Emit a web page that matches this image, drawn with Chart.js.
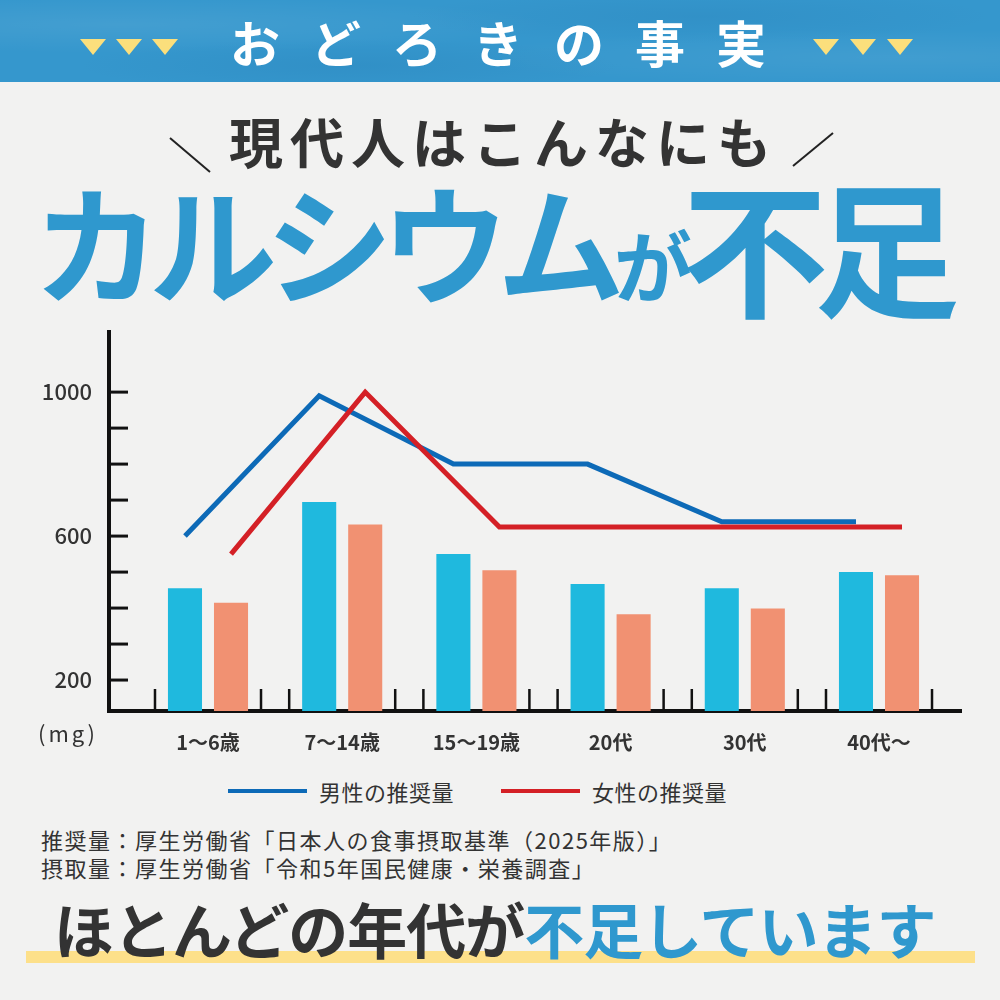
<!DOCTYPE html>
<html lang="ja">
<head>
<meta charset="utf-8">
<title>カルシウムが不足</title>
<script src="https://cdn.jsdelivr.net/npm/chart.js@4.4.1/dist/chart.umd.min.js"></script>
<style>
    html, body {
        margin: 0;
        padding: 0;
    }
    body {
        width: 1000px;
        height: 1000px;
        position: relative;
        overflow: hidden;
        background: #f2f2f1;
        font-family: "Noto Sans CJK JP", "Noto Sans", sans-serif;
        color: #333;
    }
    .abs { position: absolute; white-space: nowrap; line-height: 1; }
    .banner {
        position: absolute; left: 0; top: 0; width: 1000px; height: 82px;
        background:
            radial-gradient(ellipse at 12% 30%, rgba(255,255,255,0.07), transparent 35%),
            radial-gradient(ellipse at 35% 80%, rgba(0,60,120,0.08), transparent 30%),
            radial-gradient(ellipse at 70% 20%, rgba(0,60,120,0.07), transparent 30%),
            radial-gradient(ellipse at 90% 70%, rgba(255,255,255,0.06), transparent 35%),
            #3597cd;
    }
    .banner-title {
        left: 0; top: 16px; width: 1000px; text-align: center;
        font-size: 50px; font-weight: 700; color: #fff;
        letter-spacing: 31px; text-indent: 27px;
    }
    .tri {
        position: absolute; width: 0; height: 0; top: 39px;
        border-left: 13px solid transparent; border-right: 13px solid transparent;
        border-top: 16px solid #fbdf7c;
    }
    .sub {
        left: 0; top: 114px; width: 1000px; text-align: center;
        font-size: 54px; font-weight: 700; color: #333; letter-spacing: 7px; text-indent: 7px;
    }
    .big { color: #2f98ce; font-weight: 700; }
    .source { left: 41px; font-size: 22px; color: #333; letter-spacing: 1.5px; }
    .legend-line { position: absolute; height: 4px; top: 789px; width: 79px; }
    .legend-text { top: 780px; font-size: 22px; color: #333; letter-spacing: 0.5px; }
    .marker {
        position: absolute; left: 26px; top: 951px; width: 949px; height: 12px;
        background: #fde08a;
    }
    .bottom {
        left: 54px; top: 898px; font-size: 60px; font-weight: 700; color: #333; letter-spacing: -1px;
    }
    #chartBox { position: absolute; left: 0; top: 300px; width: 1000px; height: 470px; }
</style>
</head>
<body>
<div class="banner"></div>
<div class="tri" style="left:80px"></div>
<div class="tri" style="left:116px"></div>
<div class="tri" style="left:152px"></div>
<div class="tri" style="left:813px"></div>
<div class="tri" style="left:850px"></div>
<div class="tri" style="left:887px"></div>
<div class="abs banner-title">おどろきの事実</div>

<svg class="abs" style="left:0;top:0" width="1000" height="200">
    <line x1="170" y1="138" x2="210" y2="172" stroke="#222" stroke-width="2"/>
    <line x1="833" y1="133" x2="793" y2="166" stroke="#222" stroke-width="2"/>
</svg>
<div class="abs sub">現代人はこんなにも</div>

<div class="abs big" style="left:33px;top:176px;font-size:128px;letter-spacing:-12px">カルシウム</div>
<div class="abs big" style="left:614px;top:224px;font-size:78px">が</div>
<div class="abs big" style="left:682px;top:170px;font-size:146px;letter-spacing:-14px">不足</div>

<div id="chartBox"><canvas id="calciumChart"></canvas></div>
<div class="abs" style="left:38px;top:721px;font-size:22px;letter-spacing:3px;color:#333">(mg)</div>
<div id="legend"></div>

<div class="abs source" style="top:828px">推奨量：厚生労働省「日本人の食事摂取基準（2025年版）」</div>
<div class="abs source" style="top:856px">摂取量：厚生労働省「令和5年国民健康・栄養調査」</div>

<div class="marker"></div>
<div class="abs bottom">ほとんどの年代が<span style="color:#2f98ce">不足しています</span></div>

<script>
// ===========================
// DATA
// ===========================

const ageGroups = ['1～6歳', '7～14歳', '15～19歳', '20代', '30代', '40代～'];

// 摂取量 (bars)
const menIntake = [455, 695, 550, 467, 455, 500];
const womenIntake = [415, 632, 505, 383, 399, 491];

// 推奨量 (lines)
const menRecommended = [600, 990, 800, 800, 640, 640];
const womenRecommended = [550, 1000, 625, 625, 625, 625];

const yTickLabels = [200, 600, 1000];

const MEN_BAR = '#1fb9de';
const WOMEN_BAR = '#f19172';
const MEN_LINE = '#0d6ab7';
const WOMEN_LINE = '#d42026';

// half span of a group on the x axis, used for the small boundary ticks
const groupHalf = 0.395;

/**
 * Move the line points onto the centre of the matching bar series
 */
const alignToBars = {
    id: 'alignToBars',
    afterDatasetsUpdate(chart) {
        chart.data.datasets.forEach((ds, di) => {
            if (ds.barRef === undefined) return;
            const bars = chart.getDatasetMeta(ds.barRef).data;
            chart.getDatasetMeta(di).data.forEach((pt, i) => {
                pt.x = bars[i].x;
            });
        });
    }
};

/**
 * Short tick marks drawn inside the axes
 */
const innerTicks = {
    id: 'innerTicks',
    afterDraw(chart) {
        const { ctx, chartArea, scales: { x, y } } = chart;
        ctx.save();
        ctx.strokeStyle = '#111';

        ctx.lineWidth = 3;
        y.ticks.forEach(t => {
            if (t.value < 200 || t.value % 100 !== 0) return;
            const py = y.getPixelForValue(t.value);
            ctx.beginPath();
            ctx.moveTo(chartArea.left, py);
            ctx.lineTo(chartArea.left + 19, py);
            ctx.stroke();
        });

        ctx.lineWidth = 2.5;
        ageGroups.forEach((_, i) => {
            [i - groupHalf, i + groupHalf].forEach(v => {
                const px = x.getPixelForValue(v);
                ctx.beginPath();
                ctx.moveTo(px, chartArea.bottom);
                ctx.lineTo(px, chartArea.bottom - 22);
                ctx.stroke();
            });
        });
        ctx.restore();
    }
};

function initCalciumChart() {
    const ctx = document.getElementById('calciumChart');
    if (!ctx) return;

    const toPoints = arr => arr.map((v, i) => ({ x: i, y: v }));

    const chart = new Chart(ctx, {
        data: {
            datasets: [
                {
                    type: 'bar',
                    label: '男性の摂取量',
                    data: toPoints(menIntake),
                    backgroundColor: MEN_BAR,
                    barPercentage: 0.74,
                    categoryPercentage: 0.686,
                    order: 2
                },
                {
                    type: 'bar',
                    label: '女性の摂取量',
                    data: toPoints(womenIntake),
                    backgroundColor: WOMEN_BAR,
                    barPercentage: 0.74,
                    categoryPercentage: 0.686,
                    order: 2
                },
                {
                    type: 'line',
                    label: '男性の推奨量',
                    data: toPoints(menRecommended),
                    barRef: 0,
                    borderColor: MEN_LINE,
                    backgroundColor: MEN_LINE,
                    borderWidth: 5,
                    pointRadius: 0,
                    tension: 0,
                    borderCapStyle: 'butt',
                    borderJoinStyle: 'miter',
                    fill: false,
                    order: 1
                },
                {
                    type: 'line',
                    label: '女性の推奨量',
                    data: toPoints(womenRecommended),
                    barRef: 1,
                    borderColor: WOMEN_LINE,
                    backgroundColor: WOMEN_LINE,
                    borderWidth: 5,
                    pointRadius: 0,
                    tension: 0,
                    borderCapStyle: 'butt',
                    borderJoinStyle: 'miter',
                    fill: false,
                    order: 0
                }
            ]
        },
        options: {
            responsive: true,
            maintainAspectRatio: false,
            animation: false,
            layout: {
                padding: { top: 32, right: 39, left: 0, bottom: 0 }
            },
            plugins: {
                legend: { display: false },
                tooltip: { enabled: false }
            },
            scales: {
                x: {
                    type: 'linear',
                    min: -0.7377,
                    max: 5.611,
                    offset: false,
                    z: 1,
                    afterFit: scale => { scale.height = 59; },
                    afterBuildTicks: scale => {
                        scale.ticks = ageGroups.map((_, i) => ({ value: i }));
                    },
                    grid: { display: false, drawTicks: false, offset: false },
                    border: { display: true, color: '#111', width: 4 },
                    ticks: {
                        autoSkip: false,
                        maxRotation: 0,
                        padding: 19,
                        color: '#333',
                        font: { family: '"Noto Sans CJK JP", sans-serif', size: 20, weight: 'bold' },
                        callback: value => ageGroups[value]
                    }
                },
                y: {
                    type: 'linear',
                    min: 114,
                    max: 1167,
                    z: 1,
                    afterFit: scale => { scale.width = 109; },
                    afterBuildTicks: scale => {
                        scale.ticks = scale.ticks.filter(t => t.value % 100 === 0);
                    },
                    grid: { display: false, drawTicks: false },
                    border: { display: true, color: '#111', width: 4 },
                    ticks: {
                        stepSize: 100,
                        padding: 17,
                        color: '#333',
                        font: { family: '"Noto Sans CJK JP", sans-serif', size: 22, weight: '500' },
                        callback: value => yTickLabels.includes(value) ? String(value) : ''
                    }
                }
            }
        },
        plugins: [alignToBars, innerTicks]
    });

    buildLegend(chart);
}

/**
 * Legend for the recommended amount lines
 */
function buildLegend(chart) {
    const box = document.getElementById('legend');
    const starts = [228, 501];
    chart.data.datasets
        .filter(ds => ds.type === 'line')
        .forEach((ds, i) => {
            const line = document.createElement('div');
            line.className = 'legend-line';
            line.style.left = starts[i] + 'px';
            line.style.background = ds.borderColor;
            const text = document.createElement('div');
            text.className = 'abs legend-text';
            text.style.left = (starts[i] + 91) + 'px';
            text.textContent = ds.label;
            box.appendChild(line);
            box.appendChild(text);
        });
}

initCalciumChart();
</script>
</body>
</html>
